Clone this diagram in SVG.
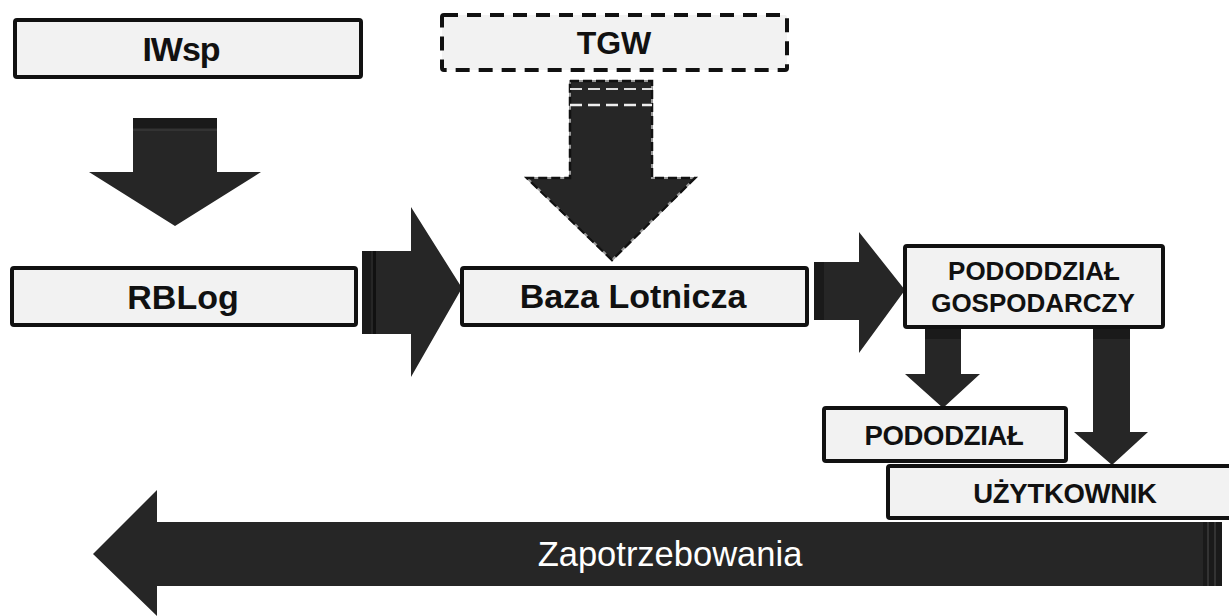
<svg xmlns="http://www.w3.org/2000/svg" width="1229" height="616" viewBox="0 0 1229 616">
  <style>
    .box { fill: #f2f2f2; stroke: #111; stroke-width: 4; }
    .dash { fill: #f2f2f2; stroke: #111; stroke-width: 4; stroke-dasharray: 14 9; }
    .arrow { fill: #262626; }
    .band { fill: #1a1a1a; }
    .lbl { font-family: "Liberation Sans", Arial, sans-serif; font-weight: bold; fill: #111; text-anchor: middle; }
    .big { font-size: 34px; }
    .small { font-size: 26px; }
    .mid { font-size: 27.5px; letter-spacing: -0.3px; }
    .flow { font-family: "Liberation Sans", Arial, sans-serif; font-size: 34.5px; fill: #fff; text-anchor: middle; }
  </style>

  <rect width="1229" height="616" fill="#fff"/>

  <!-- connectors (block arrows) -->
  <g id="connectors">
    <!-- IWsp down to RBLog -->
    <polygon class="arrow" points="133,118 217,118 217,172 261,172 175,226 89,172 133,172"/>
    <rect class="band" x="133" y="118" width="84" height="10"/>
    <rect x="133" y="129" width="84" height="2" fill="#333"/>

    <!-- TGW down to Baza Lotnicza (dashed outline) -->
    <polygon class="arrow" points="570,81 652,81 652,178 695,178 612,260 527,178 570,178" stroke="#999" stroke-width="2"/>
    <polygon points="570,81 652,81 652,178 695,178 612,260 527,178 570,178" fill="none" stroke="#111" stroke-width="2.5" stroke-dasharray="9 4"/>
    <line x1="570" y1="89" x2="652" y2="89" stroke="#ddd" stroke-width="2" stroke-dasharray="12 6"/>
    <line x1="570" y1="105" x2="652" y2="105" stroke="#eee" stroke-width="2.5" stroke-dasharray="12 6"/>

    <!-- RBLog right to Baza Lotnicza -->
    <polygon class="arrow" points="362,251 411,251 411,207 462,288 411,377 411,334 362,334"/>
    <rect class="band" x="362" y="251" width="9" height="83"/>
    <rect x="373" y="251" width="3" height="83" fill="#111"/>

    <!-- Baza Lotnicza right to Pododdział gospodarczy -->
    <polygon class="arrow" points="814,262 859,262 859,232 905,290 859,353 859,320 814,320"/>
    <rect class="band" x="814" y="262" width="10" height="58"/>

    <!-- Pododdział gospodarczy down to Pododział -->
    <polygon class="arrow" points="925,327 961,327 961,374 980,374 943,408 905,374 925,374"/>
    <rect class="band" x="925" y="327" width="36" height="12"/>

    <!-- Pododdział gospodarczy down to Użytkownik -->
    <polygon class="arrow" points="1093,327 1130,327 1130,432 1148,432 1112,465 1074,432 1093,432"/>
    <rect class="band" x="1093" y="327" width="37" height="12"/>

    <!-- Zapotrzebowania (back-flow to the left) -->
    <polygon class="arrow" points="1222,522 157,522 157,490 93,554 157,616 157,586 1222,586"/>
    <rect class="band" x="1203" y="522" width="19" height="64"/>
    <rect x="1207" y="522" width="2" height="64" fill="#333"/>
    <rect x="1214" y="522" width="2" height="64" fill="#333"/>
    <text class="flow" x="670" y="566">Zapotrzebowania</text>
  </g>

  <g id="node-iwsp">
    <rect class="box" x="15" y="20" width="346" height="57" rx="2"/>
    <text class="lbl big" x="181" y="61" letter-spacing="-1">IWsp</text>
  </g>

  <g id="node-tgw">
    <rect class="dash" x="442" y="15" width="345" height="55" rx="2"/>
    <text class="lbl" x="614" y="54" font-size="32">TGW</text>
  </g>

  <g id="node-rblog">
    <rect class="box" x="12" y="268" width="344" height="57" rx="2"/>
    <text class="lbl big" x="183" y="309">RBLog</text>
  </g>

  <g id="node-baza">
    <rect class="box" x="462" y="268" width="345" height="57" rx="2"/>
    <text class="lbl big" x="633" y="308">Baza Lotnicza</text>
  </g>

  <g id="node-pododdzial-gospodarczy">
    <rect class="box" x="905" y="246" width="258" height="81" rx="2"/>
    <text class="lbl small" x="1034" y="280">PODODDZIAŁ</text>
    <text class="lbl small" x="1033" y="312">GOSPODARCZY</text>
  </g>

  <g id="node-pododzial">
    <rect class="box" x="824" y="408" width="242" height="53" rx="2"/>
    <text class="lbl mid" x="944" y="445">PODODZIAŁ</text>
  </g>

  <g id="node-uzytkownik">
    <rect class="box" x="888" y="466" width="345" height="52" rx="2"/>
    <text class="lbl mid" x="1065" y="503">UŻYTKOWNIK</text>
  </g>
</svg>
